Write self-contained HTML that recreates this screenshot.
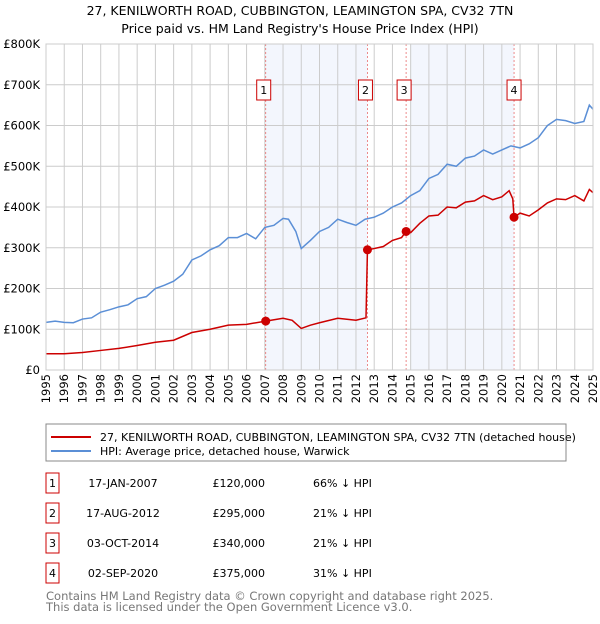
<!DOCTYPE html>
<html><head><meta charset="utf-8"><style>
body{margin:0;background:#fff;font-family:"DejaVu Sans","Liberation Sans",sans-serif;}
svg text{font-family:"DejaVu Sans","Liberation Sans",sans-serif;}
</style></head><body>
<svg id="c" width="600" height="620" xmlns="http://www.w3.org/2000/svg">
<text x="300" y="15" text-anchor="middle" font-size="12.5">27, KENILWORTH ROAD, CUBBINGTON, LEAMINGTON SPA, CV32 7TN</text>
<text x="300" y="33" text-anchor="middle" font-size="12.5">Price paid vs. HM Land Registry's House Price Index (HPI)</text>
<g id="plot"></g>
<rect x="46" y="424" width="520" height="37" fill="#fff" stroke="#888"/>
<line x1="51" y1="437" x2="91" y2="437" stroke="#cc0000" stroke-width="2"/>
<text x="100" y="441" font-size="11">27, KENILWORTH ROAD, CUBBINGTON, LEAMINGTON SPA, CV32 7TN (detached house)</text>
<line x1="51" y1="451" x2="91" y2="451" stroke="#5b8fd6" stroke-width="2"/>
<text x="100" y="455" font-size="11">HPI: Average price, detached house, Warwick</text>
<g id="table" font-size="11"></g>
<text x="46" y="600" font-size="11.5" fill="#777">Contains HM Land Registry data © Crown copyright and database right 2025.</text>
<text x="46" y="611" font-size="11.5" fill="#777">This data is licensed under the Open Government Licence v3.0.</text>
</svg>
<script>
const hpiYears=[1995,1995.5,1996,1996.5,1997,1997.5,1998,1998.5,1999,1999.5,2000,2000.5,2001,2001.5,2002,2002.5,2003,2003.5,2004,2004.5,2005,2005.5,2006,2006.5,2007,2007.5,2008,2008.3,2008.7,2009,2009.5,2010,2010.5,2011,2011.5,2012,2012.5,2013,2013.5,2014,2014.5,2015,2015.5,2016,2016.5,2017,2017.5,2018,2018.5,2019,2019.5,2020,2020.5,2021,2021.5,2022,2022.5,2023,2023.5,2024,2024.5,2024.8,2025];
const hpiValues=[117,120,117,116,125,128,142,148,155,160,175,180,200,208,218,235,270,280,295,305,325,325,335,322,350,355,372,370,340,298,318,340,350,370,362,355,370,375,385,400,410,428,440,470,480,505,500,520,525,540,530,540,550,545,555,570,600,615,612,605,610,650,640];
const propYears=[1995,1996,1997,1998,1999,2000,2001,2002,2003,2004,2005,2006,2007.05,2008,2008.5,2009,2009.5,2010,2011,2012,2012.55,2012.63,2013,2013.5,2014,2014.5,2014.75,2015,2015.5,2016,2016.5,2017,2017.5,2018,2018.5,2019,2019.5,2020,2020.4,2020.6,2020.67,2021,2021.5,2022,2022.5,2023,2023.5,2024,2024.5,2024.8,2025];
const propValues=[40,40,43,48,53,60,68,73,92,100,110,112,120,127,122,102,110,116,127,122,128,295,298,303,318,325,340,337,360,378,380,400,398,412,415,428,418,425,440,420,375,385,378,393,410,420,418,428,415,443,435];
const saleLabels=["1","2","3","4"];
const saleYears=[2007.05,2012.63,2014.75,2020.67];
const salePrices=[120,295,340,375];
const saleDates=["17-JAN-2007","17-AUG-2012","03-OCT-2014","02-SEP-2020"];
const salePriceText=["£120,000","£295,000","£340,000","£375,000"];
const saleHpiText=["66% ↓ HPI","21% ↓ HPI","21% ↓ HPI","31% ↓ HPI"];
const yTicks=[0,100,200,300,400,500,600,700,800];
const yTickLabels=["£0","£100K","£200K","£300K","£400K","£500K","£600K","£700K","£800K"];

const X0=46,X1=593,Y0=370,Y1=44;
const xs=y=>X0+(y-1995)/30*(X1-X0);
const ys=v=>Y0-v/800*(Y0-Y1);
const NS="http://www.w3.org/2000/svg";
const plot=document.getElementById('plot');
function mk(tag,attrs,parent){const e=document.createElementNS(NS,tag);for(const k in attrs)e.setAttribute(k,attrs[k]);(parent||plot).appendChild(e);return e;}

let e=mk('rect',{x:X0,y:Y1,width:X1-X0,height:Y0-Y1,fill:'#fff'});


e=mk('rect',{x:xs(saleYears[0]),y:Y1,width:xs(saleYears[1])-xs(saleYears[0]),height:Y0-Y1,fill:'#f3f6fd'});


e=mk('rect',{x:xs(saleYears[2])+4,y:Y1,width:xs(saleYears[3])-xs(saleYears[2])-4,height:Y0-Y1,fill:'#f3f6fd'});



for(let yr=1995;yr<=2025;yr++){
  e=mk('line',{x1:xs(yr),x2:xs(yr),y1:Y1,y2:Y0,stroke:'#ccc','stroke-width':1});
  
  
  e=mk('text',{x:0,y:0,'font-size':11.5,'text-anchor':'end',transform:`translate(${xs(yr)+4},${Y0+4}) rotate(-90)`});
  e.textContent=yr;
  
  
}
yTicks.forEach((v,i)=>{
  e=mk('line',{x1:X0,x2:X1,y1:ys(v),y2:ys(v),stroke:'#ccc','stroke-width':1});
  
  
  e=mk('text',{x:X0-6,y:ys(v)+4,'font-size':11.5,'text-anchor':'end'});
  e.textContent=yTickLabels[i];
  
  
});
saleYears.forEach((yr,i)=>{
  e=mk('line',{x1:xs(yr),x2:xs(yr),y1:Y1,y2:Y0,stroke:'#e87070','stroke-width':0.8,'stroke-dasharray':'2,2'});
  
  
});
e=mk('polyline',{points:hpiYears.map((y,i)=>xs(y)+','+ys(hpiValues[i])).join(' '),fill:'none',stroke:'#5b8fd6','stroke-width':1.5});


e=mk('polyline',{points:propYears.map((y,i)=>xs(y)+','+ys(propValues[i])).join(' '),fill:'none',stroke:'#cc0000','stroke-width':1.5});


saleYears.forEach((yr,i)=>{
  e=mk('circle',{cx:xs(yr),cy:ys(salePrices[i]),r:4.5,fill:'#cc0000'});
  
  
  e=mk('rect',{x:xs(yr)-7-(i==3?0:2),y:80,width:14,height:20,fill:'#fff',stroke:'#cc0000'});
  
  
  e=mk('text',{x:xs(yr)-(i==3?0:2),y:94,'font-size':11,'text-anchor':'middle'});
  e.textContent=saleLabels[i];
  
  
});
e=mk('rect',{x:X0,y:Y1,width:X1-X0,height:Y0-Y1,fill:'none',stroke:'#ccc'});



const tbl=document.getElementById('table');
saleLabels.forEach((l,i)=>{
  const cy=483+i*30;
  e=mk('rect',{x:46,y:cy-10,width:13,height:20,fill:'#fff',stroke:'#cc0000'},tbl);
  
  
  e=mk('text',{x:52.5,y:cy+4,'text-anchor':'middle'},tbl);e.textContent=l;
  
  
  e=mk('text',{x:123,y:cy+4,'text-anchor':'middle'},tbl);e.textContent=saleDates[i];
  
  
  e=mk('text',{x:265,y:cy+4,'text-anchor':'end'},tbl);e.textContent=salePriceText[i];
  
  
  e=mk('text',{x:313,y:cy+4},tbl);e.textContent=saleHpiText[i];
  
  
});
</script>
</body></html>
